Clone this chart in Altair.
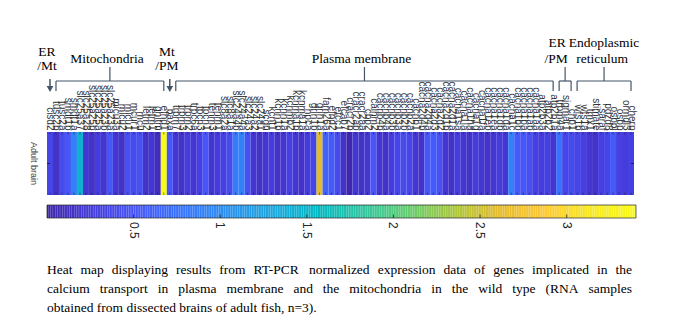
import altair as alt
import pandas as pd
import numpy as np

# ---------------- data ----------------
er_mt_genes = ["cisd2"]
mito_genes = ["tusc2b", "tusc2a", "smdt1b", "smdt1a", "slc25a37", "slc25a28", "slc25a25b",
              "slc25a25a", "slc25a23b", "slc25a23a", "micu3a", "micu2", "micu1", "mcur1",
              "mcu", "letm2", "letm1", "ghitm", "efhd1"]
mt_pm_genes = ["baxa"]
pm_genes = ["trpm7", "trpm3", "trpm2", "trpc6a", "tpcn3", "tpcn1", "tenm3", "tenm1", "slc8a2a",
            "slc8a1a", "slc24a4b", "slc24a4a", "slc24a3", "slc24a2", "slc24a1", "scgn", "kcnt1",
            "kcnn1b", "kcnn1a", "kcnmb2", "kcnma1b", "kcnma1a", "hpca", "grin1b", "grin1a",
            "fam26a", "efhd2", "efcc1", "efcab7", "cracr2b", "cracr2ab", "cracr2aa", "cbp2",
            "calhm2", "cacnb4b", "cacnb4a", "cacnb3b", "cacnb3a", "cacnb2b", "cacnb2a", "cacnb1",
            "cacna2d4b", "cacna2d4a", "cacna2d3", "cacna2d2", "cacna2d1b", "cacna2d1a",
            "cacna1sa", "cacna1ia", "cacna1ha", "cacna1g", "cacna1fa", "cacna1eb", "cacna1ea",
            "cacna1db", "cacna1da", "cacna1c", "cacna1bb", "cacna1ba", "cacna1ab", "cacna1aa",
            "atp2b3a", "atp2b2", "atp2b1a"]
er_pm_genes = ["trpm4a", "sigmar1", "chp1"]
er_genes = ["wfs1b", "wfs1a", "tmx1", "stimate", "saraf", "pdzd8", "osbpl", "osbp", "ormdl3", "cherp"]

er_mt_vals = [0.35]
mito_vals = [0.15, 0.40, 0.50, 0.90, 1.45, 0.20, 0.15, 0.25, 0.20, 0.50, 0.20, 0.15, 0.45,
             0.40, 0.45, 0.15, 0.20, 0.10, 3.40]
mt_pm_vals = [0.50]
pm_vals = [0.20, 0.15, 0.25, 0.20, 0.30, 0.50, 0.20, 0.25, 0.30, 0.40, 0.85, 0.90, 0.45, 0.20,
           0.15, 0.20, 0.25, 0.15, 0.20, 0.30, 0.20, 0.15, 0.25, 0.35, 2.60, 0.60, 0.55, 0.40,
           0.15, 0.02, 0.20, 0.15, 0.20, 0.50, 0.20, 0.15, 0.25, 0.35, 0.40, 0.35, 0.20, 0.15,
           0.50, 0.55, 0.45, 0.20, 0.15, 0.25, 0.20, 0.15, 0.25, 0.20, 0.15, 0.20, 0.25, 0.20,
           0.90, 0.55, 0.50, 0.45, 0.30, 0.25, 0.30, 0.20]
er_pm_vals = [0.75, 0.35, 0.40]
er_vals = [0.35, 0.30, 0.20, 0.15, 0.30, 0.35, 0.55, 0.30, 0.25, 0.30]

group_names = [["ER", "/Mt"], ["Mitochondria"], ["Mt", "/PM"], ["Plasma membrane"],
               ["ER", "/PM"], ["Endoplasmic", "reticulum"]]
group_kinds = ["arrow", "bracket", "arrow", "bracket", "bracket", "bracket"]
group_genes = [er_mt_genes, mito_genes, mt_pm_genes, pm_genes, er_pm_genes, er_genes]
group_vals = [er_mt_vals, mito_vals, mt_pm_vals, pm_vals, er_pm_vals, er_vals]

row_label = "Adult brain"
cbar_ticks = [0.5, 1.0, 1.5, 2.0, 2.5, 3.0]
cbar_tick_labels = ["0.5", "1", "1.5", "2", "2.5", "3"]
cmin, cmax = 0.0, 3.4

caption_lines = [
    "Heat map displaying results from RT-PCR normalized expression data of genes implicated in the",
    "calcium transport in plasma membrane and the mitochondria in the wild type (RNA samples",
    "obtained from dissected brains of adult fish, n=3).",
]
caption_justified = [True, True, False]

parula = ["#3e26a8", "#463cde", "#4758f8", "#3875fe", "#2b91ef", "#1ca9df", "#02bac3",
          "#31c69f", "#64cd6f", "#abc739", "#e6bb2d", "#fec934", "#f5e924", "#f9fb15"]

# ---------------- tables ----------------
genes = sum(group_genes, [])
values = sum(group_vals, [])
N = len(genes)
heat_df = pd.DataFrame({"idx": list(range(N)), "gene": genes, "value": values})
heat_df["x0"] = heat_df["idx"] - 0.5
heat_df["x1"] = heat_df["idx"] + 0.5

rows = []
start = 0
for names, kind, g in zip(group_names, group_kinds, group_genes):
    end = start + len(g) - 1
    rows.append({"name1": names[0], "name2": names[1] if len(names) > 1 else "",
                 "kind": kind, "start": start, "end": end, "mid": (start + end) / 2})
    start = end + 1
grp = pd.DataFrame(rows)
brk = grp[grp.kind == "bracket"].reset_index(drop=True)
arr = grp[grp.kind == "arrow"].reset_index(drop=True)
brk_ends = pd.DataFrame({"pos": list(brk.start) + list(brk.end)})

W, H = 587, 63
stops = list(np.linspace(cmin, cmax, len(parula)))
color_scale = alt.Scale(domain=stops, range=parula, interpolate="rgb")
xs = alt.Scale(domain=[-0.5, N - 0.5], nice=False, zero=False)
cbs = alt.Scale(domain=[cmin, cmax], nice=False, zero=False, range=[0, 589])

label_expr = "[" + ",".join("'%s'" % g for g in genes) + "][datum.value]"
ANN = "#44546a"
SERIF = "Liberation Serif"
SANS = "Liberation Sans"

layers = []

heat = alt.Chart(heat_df).mark_rect().encode(
    x=alt.X("x0:Q", scale=xs, axis=alt.Axis(
        orient="top", values=list(range(N)), labelExpr=label_expr, labelAngle=90,
        labelAlign="right", labelBaseline="middle", labelOverlap=False, labelFlush=False,
        labelPadding=2, ticks=False, domain=False, grid=False, title=None,
        labelFont=SANS, labelFontSize=10, labelColor="#333333", labelLimit=0)),
    x2="x1:Q",
    y=alt.value(0), y2=alt.value(H),
    color=alt.Color("value:Q", scale=color_scale, legend=None),
)
layers.append(heat)

# small column ticks inside heatmap
for y0, y1 in [(0, 2.5), (H - 2.5, H)]:
    layers.append(alt.Chart(heat_df).mark_rule(color="#20204a", strokeWidth=0.8, opacity=0.7).encode(
        x=alt.X("idx:Q", scale=xs, axis=None), y=alt.value(y0), y2=alt.value(y1)))

# row label + side ticks
one = pd.DataFrame({"t": [row_label]})
layers.append(alt.Chart(one).mark_text(angle=90, font=SANS, fontSize=9, color="#404040",
                                       align="center", baseline="middle").encode(
    text="t:N", x=alt.value(-13), y=alt.value(H / 2)))
layers.append(alt.Chart(one).mark_rule(color="#20204a").encode(
    x=alt.value(0), x2=alt.value(3), y=alt.value(H / 2)))
layers.append(alt.Chart(one).mark_rule(color="#20204a").encode(
    x=alt.value(W - 3), x2=alt.value(W), y=alt.value(H / 2)))

# brackets
YB = -51
layers.append(alt.Chart(brk).mark_rule(color=ANN, strokeWidth=1.2).encode(
    x=alt.X("start:Q", scale=xs, axis=None), x2="end:Q", y=alt.value(YB)))
layers.append(alt.Chart(brk_ends).mark_rule(color=ANN, strokeWidth=1.2).encode(
    x=alt.X("pos:Q", scale=xs, axis=None), y=alt.value(YB), y2=alt.value(YB + 10)))
layers.append(alt.Chart(brk).mark_rule(color=ANN, strokeWidth=1.2).encode(
    x=alt.X("mid:Q", scale=xs, axis=None), y=alt.value(YB - 14), y2=alt.value(YB)))

# arrows
layers.append(alt.Chart(arr).mark_rule(color=ANN, strokeWidth=1.5).encode(
    x=alt.X("start:Q", scale=xs, axis=None), y=alt.value(-53), y2=alt.value(-46)))
layers.append(alt.Chart(arr).mark_point(shape="triangle-down", filled=True, color=ANN,
                                        size=45, opacity=1).encode(
    x=alt.X("start:Q", scale=xs, axis=None), y=alt.value(-43)))

# group titles
def title_layer(df, field, y, dx=0, align="center"):
    return alt.Chart(df).mark_text(font=SERIF, fontSize=13.5, color="black", align=align,
                                   baseline="alphabetic", dx=dx).encode(
        x=alt.X("mid:Q", scale=xs, axis=None), y=alt.value(y), text=field + ":N")

g = grp.copy()
layers.append(title_layer(g.iloc[[0, 2]], "name1", -76, dx=-3))
layers.append(title_layer(g.iloc[[0, 2]], "name2", -62, dx=-3))
layers.append(title_layer(g.iloc[[1, 3]], "name1", -69, dx=-3))
layers.append(title_layer(g.iloc[[4]], "name1", -85, dx=-8))
layers.append(title_layer(g.iloc[[4]], "name2", -69, dx=-9))
layers.append(title_layer(g.iloc[[5]], "name1", -85, dx=0))
layers.append(title_layer(g.iloc[[5]], "name2", -69, dx=-2))

# colorbar
ramp = np.round(np.arange(cmin, cmax, 0.01), 4)
cb_df = pd.DataFrame({"lo": ramp, "hi": ramp + 0.0101, "value": ramp + 0.005})
CB0, CB1 = 73, 86
layers.append(alt.Chart(cb_df).mark_rect().encode(
    x=alt.X("lo:Q", scale=cbs, axis=None), x2="hi:Q",
    y=alt.value(CB0), y2=alt.value(CB1),
    color=alt.Color("value:Q", scale=color_scale, legend=None)))
layers.append(alt.Chart(one).mark_rect(fill=None, stroke="#262626", strokeWidth=0.7).encode(
    x=alt.value(0), x2=alt.value(589), y=alt.value(CB0), y2=alt.value(CB1)))
tick_df = pd.DataFrame({"tick": cbar_ticks, "lab": cbar_tick_labels})
layers.append(alt.Chart(tick_df).mark_rule(color="#262626", strokeWidth=0.8).encode(
    x=alt.X("tick:Q", scale=cbs, axis=None), y=alt.value(CB1 - 3.5), y2=alt.value(CB1)))
layers.append(alt.Chart(tick_df).mark_text(angle=90, align="left", baseline="middle",
                                           font=SANS, fontSize=12, color="#262626").encode(
    x=alt.X("tick:Q", scale=cbs, axis=None), y=alt.value(CB1 + 4), text="lab:N"))

# caption (justified like the source paragraph, using Times-Roman glyph widths)
TIMES_W = {c: w for c, w in zip("abcdefghijklmnopqrstuvwxyz",
           [444, 500, 444, 500, 444, 333, 500, 500, 278, 278, 500, 278, 778, 500, 500, 500,
            500, 333, 389, 278, 500, 500, 722, 500, 500, 444])}
TIMES_W.update({"H": 722, "R": 667, "T": 611, "P": 556, "C": 667, "N": 722, "A": 722,
                "M": 889, "(": 333, ")": 333, "-": 333, ",": 250, ".": 250, "=": 564})
for d in "0123456789":
    TIMES_W[d] = 500
FS_CAP = 13.5
LINE_W = 585.0


def word_w(wd):
    return sum(TIMES_W.get(ch, 500) for ch in wd) / 1000.0 * FS_CAP


for i, (line, just) in enumerate(zip(caption_lines, caption_justified)):
    if just:
        words = line.split(" ")
        widths = [word_w(wd) for wd in words]
        gap = (LINE_W - sum(widths)) / (len(words) - 1)
        xpos, cur = [], 0.0
        for wv in widths:
            xpos.append(cur)
            cur += wv + gap
        cdf = pd.DataFrame({"t": words, "px": xpos})
    else:
        cdf = pd.DataFrame({"t": [line], "px": [0.0]})
    layers.append(alt.Chart(cdf).mark_text(
        font=SERIF, fontSize=FS_CAP, color="black", align="left", baseline="alphabetic").encode(
        text="t:N", x=alt.X("px:Q", scale=alt.Scale(domain=[0, W], range=[0, W], nice=False, zero=False), axis=None),
        y=alt.value(142 + 19 * i)))

chart = alt.layer(*layers).resolve_scale(x="independent").properties(
    width=W, height=H,
    padding={"left": 47, "top": 132, "right": 44, "bottom": 136},
    autosize=alt.AutoSizeParams(type="none"),
    background="white",
).configure_view(stroke=None)

chart.save("out.html", embed_options={"renderer": "svg", "actions": False})
